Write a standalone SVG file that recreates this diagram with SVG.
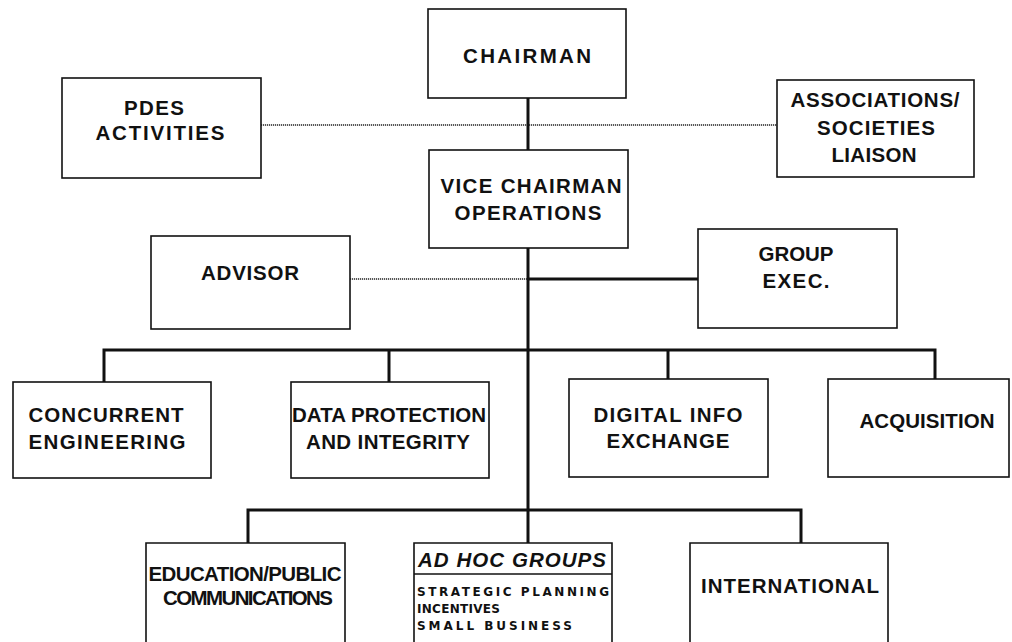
<svg xmlns="http://www.w3.org/2000/svg" width="1012" height="642" viewBox="0 0 1012 642">
<style>
.box{fill:#fff;stroke:#111;stroke-width:1.6}
.t{font-family:"Liberation Sans",Arial,sans-serif;font-weight:bold;font-size:20.5px;fill:#111;text-anchor:middle}
.s{font-family:"DejaVu Sans","Liberation Sans",sans-serif;font-weight:bold;font-size:12px;fill:#111}
.solid{stroke:#111;stroke-width:3;fill:none}
.dot{stroke:#222;stroke-width:1.6;stroke-dasharray:1.2 0.8;fill:none}
</style>
<rect width="1012" height="642" fill="#fff"/>
<g id="connectors">
<line class="dot" x1="261" y1="125" x2="777" y2="125"/>
<line class="dot" x1="350" y1="279" x2="528" y2="279"/>
<line class="solid" x1="528" y1="279" x2="698" y2="279"/>
<line class="solid" x1="528" y1="98" x2="528" y2="150"/>
<line class="solid" x1="528" y1="248" x2="528" y2="543"/>
<polyline class="solid" points="104,382 104,350 935,350 935,379"/>
<line class="solid" x1="389" y1="350" x2="389" y2="382"/>
<line class="solid" x1="668" y1="350" x2="668" y2="379"/>
<polyline class="solid" points="248,543 248,510 801,510 801,543"/>
</g>
<g id="chairman"><rect class="box" x="428" y="9" width="198" height="89"/><text class="t" x="527" y="63" textLength="128">CHAIRMAN</text></g>
<g id="pdes"><rect class="box" x="62" y="78" width="199" height="100"/><text class="t" x="154" y="115" textLength="60">PDES</text><text class="t" x="160" y="140" textLength="129">ACTIVITIES</text></g>
<g id="assoc"><rect class="box" x="777" y="80" width="197" height="97"/><text class="t" x="875" y="107" textLength="169">ASSOCIATIONS/</text><text class="t" x="876" y="135" textLength="118">SOCIETIES</text><text class="t" x="874" y="162" textLength="85">LIAISON</text></g>
<g id="vice"><rect class="box" x="429" y="150" width="199" height="98"/><text class="t" x="531" y="193" textLength="181">VICE CHAIRMAN</text><text class="t" x="528" y="220" textLength="147">OPERATIONS</text></g>
<g id="advisor"><rect class="box" x="151" y="236" width="199" height="93"/><text class="t" x="250" y="280" textLength="98">ADVISOR</text></g>
<g id="groupexec"><rect class="box" x="698" y="229" width="199" height="99"/><text class="t" x="796" y="261" textLength="75">GROUP</text><text class="t" x="796" y="288" textLength="67">EXEC.</text></g>
<g id="concurrent"><rect class="box" x="13" y="382" width="198" height="96"/><text class="t" x="106" y="422" textLength="155">CONCURRENT</text><text class="t" x="107" y="449" textLength="157">ENGINEERING</text></g>
<g id="dataprot"><rect class="box" x="291" y="382" width="198" height="96"/><text class="t" x="389" y="422" textLength="194">DATA PROTECTION</text><text class="t" x="388" y="449" textLength="164">AND INTEGRITY</text></g>
<g id="digital"><rect class="box" x="569" y="379" width="199" height="98"/><text class="t" x="668" y="422" textLength="149">DIGITAL INFO</text><text class="t" x="668" y="448" textLength="123">EXCHANGE</text></g>
<g id="acquisition"><rect class="box" x="828" y="379" width="181" height="98"/><text class="t" x="927" y="428" textLength="135">ACQUISITION</text></g>
<g id="education"><path class="box" d="M146,650 V543 H345 V650"/><text class="t" x="245" y="581" textLength="193">EDUCATION/PUBLIC</text><text class="t" x="248" y="605" textLength="170">COMMUNICATIONS</text></g>
<g id="adhoc"><path class="box" d="M414,650 V543 H612 V650"/><text class="t" x="512" y="567" textLength="188" font-style="italic">AD HOC GROUPS</text><line x1="414" y1="574" x2="612" y2="574" stroke="#111" stroke-width="1.6"/><text class="s" x="417" y="596" textLength="192">STRATEGIC PLANNING</text><text class="s" x="417" y="613" textLength="83">INCENTIVES</text><text class="s" x="417" y="630" textLength="155">SMALL BUSINESS</text></g>
<g id="international"><path class="box" d="M690,650 V543 H888 V650"/><text class="t" x="790" y="593" textLength="178">INTERNATIONAL</text></g>
</svg>
